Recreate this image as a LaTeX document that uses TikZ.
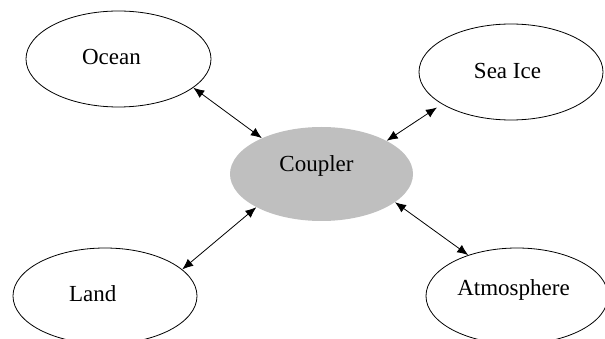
\documentclass[tikz,border=0pt]{standalone}
\usepackage{fontspec}
\setmainfont{Liberation Serif}
\usetikzlibrary{shapes.geometric,arrows.meta}
\begin{document}
\begin{tikzpicture}[x=1pt,y=-1pt,
  comp/.style={ellipse,draw=black,line width=0.8pt,inner sep=0pt,minimum width=184pt,minimum height=96pt},
  hub/.style={ellipse,fill=black!25,draw=none,inner sep=0pt,minimum width=183pt,minimum height=94pt},
  lbl/.style={anchor=base,inner sep=0pt,font=\fontsize{23}{27}\selectfont},
  link/.style={line width=0.8pt,{Latex[length=11pt,width=9pt]}-{Latex[length=11pt,width=9pt]}}]
\path[use as bounding box] (0,0) rectangle (605,339);
\node[hub] (coupler) at (321.5,174) {};
\node[comp,minimum width=185pt] (ocean) at (118.5,59) {};
\node[comp] (seaice) at (511,72) {};
\node[comp] (land) at (105,296) {};
\node[comp,minimum width=182pt] (atmos) at (517,296) {};
\node[lbl] (tcoupler) at (316.5,172) {Coupler};
\node[lbl] (tocean) at (111.5,65) {Ocean};
\node[lbl] (tseaice) at (507.5,79) {Sea Ice};
\node[lbl] (tland) at (92.7,301.7) {Land};
\node[lbl] (tatmos) at (513.5,295) {Atmosphere};
\draw[link] (ocean.-21.1) -- (coupler.149.8);
\draw[link,shorten <=6pt] (seaice.205.8) -- (coupler.27.8);
\draw[link] (land.19.7) -- (coupler.207.1);
\draw[link] (atmos.140.6) -- (coupler.-21.1);
\end{tikzpicture}
\end{document}
